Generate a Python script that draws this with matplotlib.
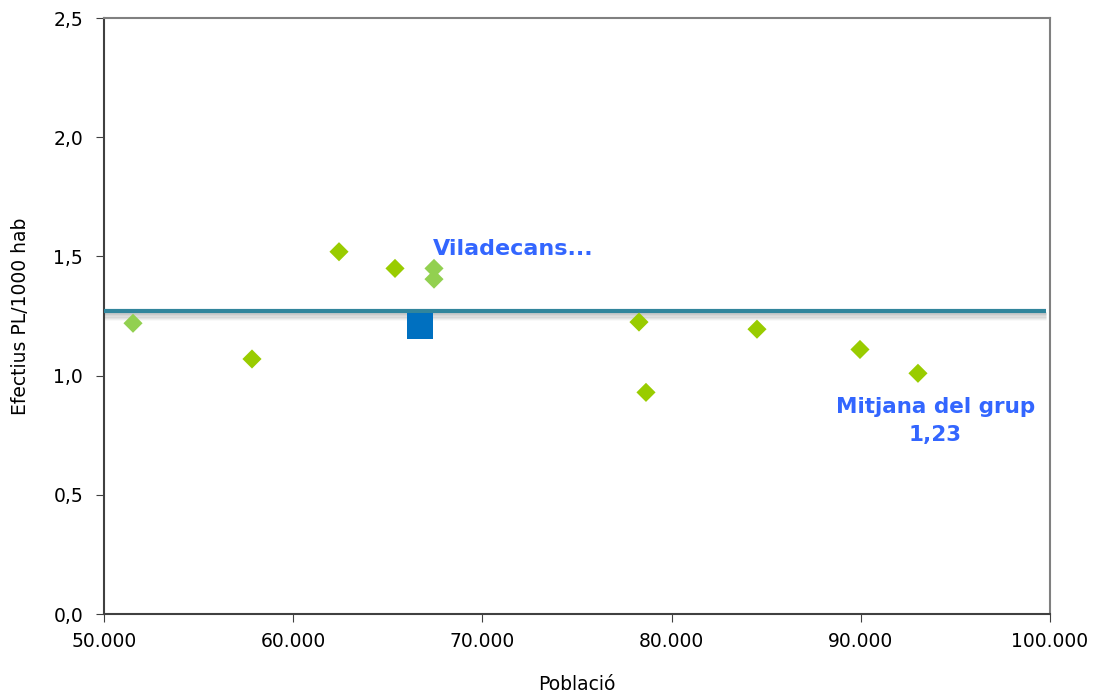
import matplotlib.pyplot as plt
from matplotlib.ticker import FuncFormatter

# Municipalities in the group (population, staff per 1000 inhabitants)
poblacio = [51533, 57822, 62421, 65381, 67442, 67442, 78277, 78647, 84514, 89958, 93023]
efectius = [1.22, 1.07, 1.52, 1.45, 1.45, 1.405, 1.225, 0.93, 1.195, 1.11, 1.01]
colors = ['#92D050', '#99CC00', '#99CC00', '#99CC00', '#92D050', '#92D050',
          '#99CC00', '#99CC00', '#99CC00', '#99CC00', '#99CC00']

# Viladecans
vil_pob = [66702]
vil_ef = [1.21]

mitjana_linia = 1.27
mitjana_text = 'Mitjana del grup\n1,23'

fig = plt.figure(figsize=(10.96, 6.97), dpi=100)
ax = fig.add_axes([0.0949, 0.119, 0.8631, 0.855])
ax.set_xlim(50000, 100000)
ax.set_ylim(0, 2.5)

# mean line with a soft shadow underneath
for i, a in enumerate([0.28, 0.22, 0.17, 0.12, 0.08, 0.05]):
    ax.plot([50000, 99800], [mitjana_linia - 0.008 - i * 0.005] * 2,
            color='gray', lw=2, alpha=a, solid_capstyle='butt', zorder=2)
ax.plot([50000, 99800], [mitjana_linia, mitjana_linia], color='#31859C', lw=3,
        solid_capstyle='butt', zorder=3)

ax.scatter(poblacio, efectius, marker='D', s=95, c=colors, zorder=4, linewidths=0)
ax.scatter(vil_pob, vil_ef, marker='s', s=330, c='#0070C0', zorder=4, linewidths=0)

ax.text(67400, 1.53, 'Viladecans...', color='#3366FF', fontsize=16,
        fontweight='bold', ha='left', va='center')
ax.text(93950, 0.81, mitjana_text, color='#3366FF', fontsize=15.5,
        fontweight='bold', ha='center', va='center', linespacing=1.45)

ax.set_xticks(range(50000, 100001, 10000))
ax.set_yticks([0, 0.5, 1.0, 1.5, 2.0, 2.5])
ax.xaxis.set_major_formatter(FuncFormatter(lambda v, p: f'{int(v):,}'.replace(',', '.')))
ax.yaxis.set_major_formatter(FuncFormatter(lambda v, p: f'{v:.1f}'.replace('.', ',')))
ax.tick_params(labelsize=13.5, length=6, color='#404040')
ax.tick_params(axis='x', pad=7)
ax.tick_params(axis='y', pad=9)

for s in ['left', 'bottom']:
    ax.spines[s].set_color('#404040')
    ax.spines[s].set_linewidth(1.5)
for s in ['top', 'right']:
    ax.spines[s].set_color('#808080')
    ax.spines[s].set_linewidth(1.5)

ax.set_xlabel('Població', fontsize=13.5, labelpad=17)
ax.set_ylabel('Efectius PL/1000 hab', fontsize=13.5, labelpad=17)

fig.savefig('out.png', dpi=100)
